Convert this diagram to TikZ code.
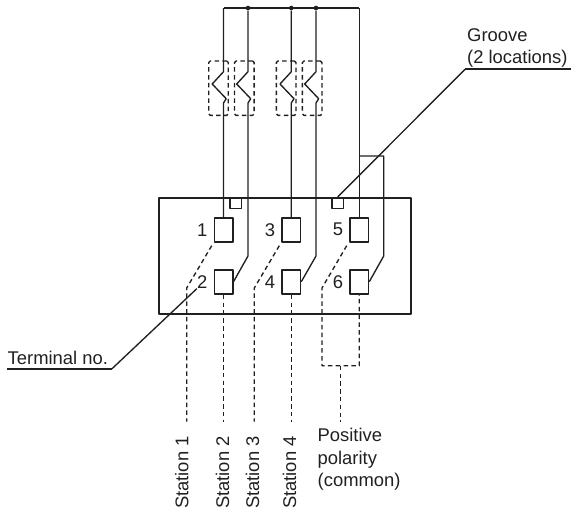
\documentclass[tikz,border=0pt]{standalone}
\usepackage{fontspec}
\setmainfont{Liberation Sans}
\usetikzlibrary{positioning}
\definecolor{ink}{HTML}{231F20}

\begin{document}
\begin{tikzpicture}[x=1pt, y=-1pt, line join=round, color=ink,
    wire/.style={line width=1.35pt},
    leader/.style={line width=1.35pt},
    hidden/.style={line width=1.35pt, dash pattern=on 4.5pt off 3.3pt},
    terminal/.style={draw, line width=1.6pt, minimum width=18.4pt, minimum height=24pt, inner sep=0pt},
    groovebox/.style={draw, line width=1.4pt, minimum width=11.3pt, minimum height=11pt, inner sep=0pt},
    termno/.style={inner sep=0pt, font=\fontsize{18.4}{22}\selectfont},
    caption/.style={inner sep=0pt, font=\fontsize{18.4}{22.5}\selectfont, align=left},
    station/.style={caption, rotate=90, anchor=base east},
    fuse/.style={draw, line width=1.35pt, dash pattern=on 4.5pt off 3.3pt, rounded corners=1.5pt, minimum width=19.6pt, minimum height=54.3pt, inner sep=0pt},
    junction/.style={circle, fill, inner sep=0pt, minimum size=4.6pt}]
    \useasboundingbox (0, 0) rectangle (571, 509);

    % body
    \node (body) [draw, line width=1.7pt, minimum width=252pt, minimum height=116.5pt, inner sep=0pt] at (285, 256) {};
    \node (grooveA) [groovebox] at (235.7, 203.2) {};
    \node (grooveB) [groovebox] at (337.7, 203.2) {};

    % terminals
    \node (t1) [terminal] at (223.5, 229.7) {};
    \node (t2) [terminal] at (223.5, 282) {};
    \node (t3) [terminal] at (291.3, 229.7) {};
    \node (t4) [terminal] at (291.3, 282) {};
    \node (t5) [terminal] at (359.3, 229.7) {};
    \node (t6) [terminal] at (359.3, 282) {};

    \node (n1) [termno, left=6pt of t1] {1};
    \node (n2) [termno, left=6pt of t2] {2};
    \node (n3) [termno, left=6pt of t3] {3};
    \node (n4) [termno, left=6pt of t4] {4};
    \node (n5) [termno, left=6pt of t5] {5};
    \node (n6) [termno, left=6pt of t6] {6};

    % common bus
    \coordinate (busL) at (223.5, 8);
    \coordinate (busR) at (359.3, 8);
    \node (j2) [junction] at (248, 8) {};
    \node (j3) [junction] at (291.3, 8) {};
    \node (j4) [junction] at (316, 8) {};
    \draw [line width=2pt] (busL) -- (busR);

    % fuses
    \node (f1) [fuse] at (218.5, 88.2) {};
    \node (f2) [fuse] at (244.3, 88.2) {};
    \node (f3) [fuse] at (286.2, 88.2) {};
    \node (f4) [fuse] at (312.2, 88.2) {};

    % wiring
    \draw [wire] (busL) -- (223.5, 71.7) -- (212.2, 84) -- (226.2, 98.7) -- (223.5, 103) -- (t1.north);
    \draw [wire] (j2) -- (248, 71.7) -- (236.7, 84) -- (250.7, 98.7) -- (248, 103) -- (248, 256) -- (t2.east |- 0, 281.7);
    \draw [wire] (j3) -- (291.3, 71.7) -- (280, 84) -- (294, 98.7) -- (291.3, 103) -- (t3.north);
    \draw [wire] (j4) -- (316, 71.7) -- (304.7, 84) -- (318.7, 98.7) -- (316, 103) -- (316, 256) -- (t4.east |- 0, 281.7);
    \draw [wire] (busR) -- (t5.north);
    \draw [wire] (359.3, 156) -- (383.7, 156) -- (383.7, 256) -- (t6.east |- 0, 281.7);

    % external connections
    \coordinate (endA) at (186.7, 421.7);
    \coordinate (endB) at (223.5, 421.7);
    \coordinate (endC) at (254.3, 421.7);
    \coordinate (endD) at (291.3, 421.7);
    \coordinate (endE) at (340.7, 421.7);
    \draw [hidden] (211.7, 245.7) -- (186.7, 288) -- (endA);
    \draw [hidden] (t2.south) -- (endB);
    \draw [hidden] (279.3, 245.7) -- (254.3, 288) -- (endC);
    \draw [hidden] (t4.south) -- (endD);
    \draw [hidden] (346.7, 245.7) -- (322, 288) -- (322, 365.7) -- (359.3, 365.7) -- (t6.south);
    \draw [hidden] (340.7, 365.7) -- (endE);

    % leaders
    \coordinate (grooveEnd) at (465, 69.3);
    \coordinate (noEnd) at (111.7, 369);
    \draw [leader] (grooveB.north) -- (grooveEnd);
    \draw [line width=1.8pt] (grooveEnd) -- (571, 69.3);
    \draw [leader] (n2.south west) -- (noEnd);
    \draw [line width=1.8pt] (noEnd) -- (7.3, 369);

    % labels
    \node (groove) [caption, anchor=south west] at (467, 68) {Groove\\(2 locations)};
    \node (terminal) [caption, anchor=base west] at (7.5, 364) {Terminal no.};
    \node (s1) [station] at (188.3, 436) {Station 1};
    \node (s2) [station] at (229, 436) {Station 2};
    \node (s3) [station] at (259, 436) {Station 3};
    \node (s4) [station] at (296, 436) {Station 4};
    \node (common) [caption, anchor=north west] at (317.5, 428) {Positive\\polarity\\(common)};
\end{tikzpicture}
\end{document}
